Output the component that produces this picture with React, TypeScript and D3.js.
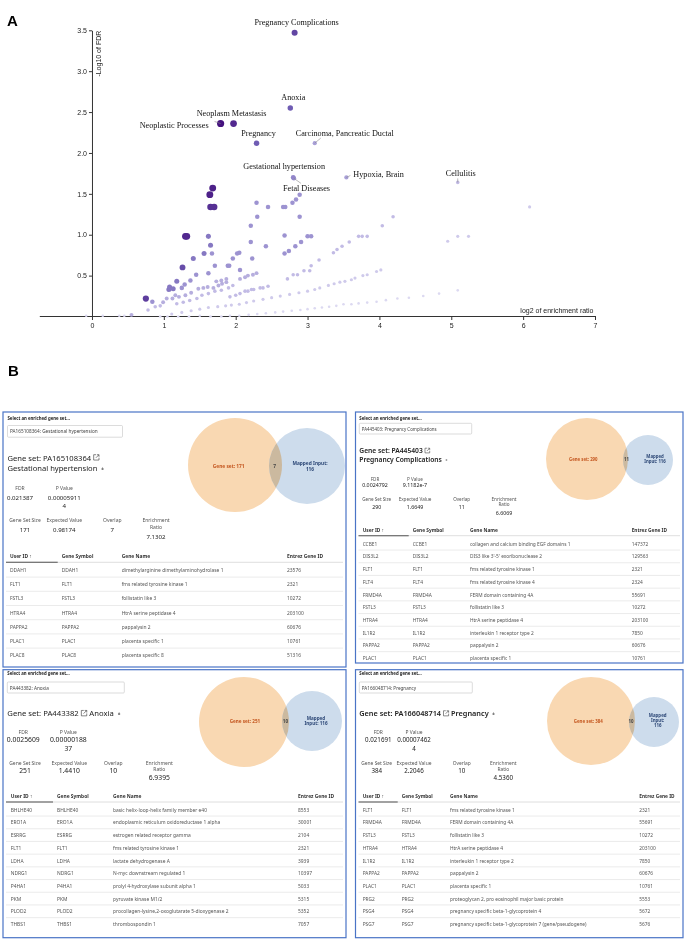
import { useEffect, useLayoutEffect, useRef, useState } from "react";
import * as d3 from "d3";

// ---------------- Panel A: volcano plot ----------------
// [log2 of enrichment ratio, -log10 of FDR], grouped by overlap size
const overlap1Points = [
  [-0.08, 0.01], [0.15, 0.01], [0.38, 0.01], [0.45, 0.01], [0.95, 0.0], [1.05, 0.0], [1.2, 0.0],
  [1.35, 0.0], [1.5, 0.01], [1.65, 0.0], [1.8, 0.0], [1.92, 0.01], [2.05, 0.01], [2.18, 0.02],
  [2.3, 0.03], [2.42, 0.04], [2.55, 0.05], [2.66, 0.06], [2.78, 0.07], [2.9, 0.08], [3.0, 0.09],
  [3.1, 0.1], [3.2, 0.11], [3.3, 0.12], [3.4, 0.13], [3.5, 0.15], [3.61, 0.15], [3.71, 0.16],
  [3.83, 0.17], [3.96, 0.18], [4.09, 0.2], [4.25, 0.22], [4.41, 0.23], [4.61, 0.25], [4.83, 0.28],
  [5.09, 0.32],
];
const overlap2Points = [
  [1.11, 0.03], [1.25, 0.05], [1.38, 0.07], [1.5, 0.09], [1.62, 0.11], [1.75, 0.12], [1.86, 0.13],
  [1.94, 0.14], [2.05, 0.15], [2.15, 0.17], [2.25, 0.19], [2.38, 0.21], [2.5, 0.23], [2.62, 0.25],
  [2.75, 0.27], [2.88, 0.29], [3.0, 0.31], [3.1, 0.33], [3.17, 0.35], [3.29, 0.38], [3.37, 0.4],
  [3.45, 0.42], [3.52, 0.43], [3.61, 0.45], [3.66, 0.47], [3.77, 0.5], [3.83, 0.51], [3.96, 0.55],
  [4.02, 0.57], [4.95, 0.92], [5.09, 0.98], [5.24, 0.98], [6.09, 1.34],
];
const overlap3Points = [
  [0.78, 0.08], [0.88, 0.12], [0.95, 0.13], [1.18, 0.155], [1.27, 0.175], [1.36, 0.195], [1.46, 0.22],
  [1.53, 0.26], [1.62, 0.28], [1.71, 0.31], [1.8, 0.32], [1.9, 0.35], [1.96, 0.38], [1.92, 0.24],
  [2.0, 0.26], [2.06, 0.28], [2.13, 0.31], [2.17, 0.31], [2.22, 0.33], [2.25, 0.33], [2.34, 0.35],
  [2.38, 0.35], [2.45, 0.37], [2.72, 0.46], [2.8, 0.51], [2.86, 0.51], [2.95, 0.56], [3.03, 0.56],
  [3.05, 0.62], [3.16, 0.69], [3.36, 0.78], [3.41, 0.82], [3.48, 0.86], [3.58, 0.91], [3.71, 0.98],
  [3.76, 0.98], [3.83, 0.98], [4.04, 1.11], [4.19, 1.22],
];
const overlap4Points = [
  [0.55, 0.02], [0.99, 0.175], [1.04, 0.22], [1.12, 0.22], [1.16, 0.26], [1.21, 0.24], [1.3, 0.26],
  [1.38, 0.29], [1.48, 0.34], [1.55, 0.35], [1.61, 0.36], [1.69, 0.35], [1.76, 0.38], [1.81, 0.4],
  [1.87, 0.42], [1.73, 0.43], [1.8, 0.44], [1.87, 0.46], [2.06, 0.46], [2.13, 0.48], [2.17, 0.5],
  [2.24, 0.51], [2.29, 0.53],
];
const overlap6Points = [
  [0.84, 0.18], [1.25, 0.35], [1.29, 0.39], [1.37, 0.44], [1.45, 0.51], [1.62, 0.53], [1.67, 0.77],
  [1.71, 0.62], [1.89, 0.62], [1.91, 0.62], [1.96, 0.71], [2.02, 0.77], [2.05, 0.78], [2.06, 0.57],
  [2.23, 0.71], [2.21, 0.91], [2.21, 1.11], [2.3, 1.22], [2.29, 1.39], [2.42, 0.86], [2.45, 1.34],
  [2.66, 1.34], [2.69, 1.34], [2.68, 0.99], [2.68, 0.77], [2.74, 0.8], [2.79, 1.39], [2.83, 0.86],
  [2.84, 1.43], [2.89, 1.49], [2.89, 1.22], [2.91, 0.91], [3.0, 0.98], [3.05, 0.98],
];
const overlap8Points = [
  [1.07, 0.33], [1.08, 0.36], [1.13, 0.34], [1.18, 0.43], [1.41, 0.71], [1.56, 0.77], [1.62, 0.98],
  [1.65, 0.87],
];
// strongest unlabeled terms: [log2 ER, -log10 FDR, overlap]
const strongPoints = [
  [0.75, 0.22, 14], [1.26, 0.6, 12], [1.3, 0.98, 17], [1.32, 0.98, 17], [1.65, 1.34, 16],
  [1.7, 1.34, 16], [1.64, 1.49, 18], [1.68, 1.57, 18],
];

const labelNames = [
  "Pregnancy Complications", "Anoxia", "Neoplasm Metastasis", "Neoplastic Processes", "Pregnancy",
  "Carcinoma, Pancreatic Ductal", "Gestational hypertension", "Fetal Diseases", "Hypoxia, Brain", "Cellulitis",
];
const labelLog2ER = [2.82, 2.76, 1.97, 1.79, 2.29, 3.1, 2.8, 2.81, 3.54, 5.09];
const labelLogFDR = [3.47, 2.55, 2.36, 2.36, 2.12, 2.12, 1.7, 1.69, 1.7, 1.64];
const labelOverlap = [13, 10, 17, 20, 10, 5, 7, 6, 5, 3];

const xTickValues = [0, 1, 2, 3, 4, 5, 6, 7];
const yTickValues = [0.5, 1, 1.5, 2, 2.5, 3, 3.5];

// ---------------- Panel B: gene set cards ----------------
const setIds = ["PA165108364", "PA445403", "PA443382", "PA166048714"];
const setNames = ["Gestational hypertension", "Pregnancy Complications", "Anoxia", "Pregnancy"];
const setFDR = ["0.021387", "0.0024792", "0.0025609", "0.021691"];
const setPValue = ["0.000059114", "9.1182e-7", "0.0000018837", "0.000074624"];
const setSize = [171, 290, 251, 384];
const setExpected = ["0.98174", "1.6649", "1.4410", "2.2046"];
const setOverlap = [7, 11, 10, 10];
const setRatio = ["7.1302", "6.6069", "6.9395", "4.5360"];
const mappedInput = 116;

const genesGestational = [
  ["DDAH1", "dimethylarginine dimethylaminohydrolase 1", "23576"],
  ["FLT1", "fms related tyrosine kinase 1", "2321"],
  ["FSTL3", "follistatin like 3", "10272"],
  ["HTRA4", "HtrA serine peptidase 4", "203100"],
  ["PAPPA2", "pappalysin 2", "60676"],
  ["PLAC1", "placenta specific 1", "10761"],
  ["PLAC8", "placenta specific 8", "51316"],
];
const genesPregComp = [
  ["CCBE1", "collagen and calcium binding EGF domains 1", "147372"],
  ["DIS3L2", "DIS3 like 3'-5' exoribonuclease 2", "129563"],
  ["FLT1", "fms related tyrosine kinase 1", "2321"],
  ["FLT4", "fms related tyrosine kinase 4", "2324"],
  ["FRMD4A", "FERM domain containing 4A", "55691"],
  ["FSTL3", "follistatin like 3", "10272"],
  ["HTRA4", "HtrA serine peptidase 4", "203100"],
  ["IL1R2", "interleukin 1 receptor type 2", "7850"],
  ["PAPPA2", "pappalysin 2", "60676"],
  ["PLAC1", "placenta specific 1", "10761"],
];
const genesAnoxia = [
  ["BHLHE40", "basic helix-loop-helix family member e40", "8553"],
  ["ERO1A", "endoplasmic reticulum oxidoreductase 1 alpha", "30001"],
  ["ESRRG", "estrogen related receptor gamma", "2104"],
  ["FLT1", "fms related tyrosine kinase 1", "2321"],
  ["LDHA", "lactate dehydrogenase A", "3939"],
  ["NDRG1", "N-myc downstream regulated 1", "10397"],
  ["P4HA1", "prolyl 4-hydroxylase subunit alpha 1", "5033"],
  ["PKM", "pyruvate kinase M1/2", "5315"],
  ["PLOD2", "procollagen-lysine,2-oxoglutarate 5-dioxygenase 2", "5352"],
  ["THBS1", "thrombospondin 1", "7057"],
];
const genesPregnancy = [
  ["FLT1", "fms related tyrosine kinase 1", "2321"],
  ["FRMD4A", "FERM domain containing 4A", "55691"],
  ["FSTL3", "follistatin like 3", "10272"],
  ["HTRA4", "HtrA serine peptidase 4", "203100"],
  ["IL1R2", "interleukin 1 receptor type 2", "7850"],
  ["PAPPA2", "pappalysin 2", "60676"],
  ["PLAC1", "placenta specific 1", "10761"],
  ["PRG2", "proteoglycan 2, pro eosinophil major basic protein", "5553"],
  ["PSG4", "pregnancy specific beta-1-glycoprotein 4", "5672"],
  ["PSG7", "pregnancy specific beta-1-glycoprotein 7 (gene/pseudogene)", "5676"],
];
const geneTables = [genesGestational, genesPregComp, genesAnoxia, genesPregnancy];

////////////////////////// styles / layout //////////////////////////
const serif = "'Liberation Serif', 'Times New Roman', serif";
const sans = "'Liberation Sans', Arial, sans-serif";
const ui = "'Noto Sans', 'Open Sans', sans-serif";

const x = d3.scaleLinear().domain([-0.733, 7]).range([39.3, 595]);
const y = d3.scaleLinear().domain([0, 3.5]).range([316.5, 30.3]);
const dotColor = d3
  .scaleLinear<string>()
  .domain([1, 3, 6, 10, 20])
  .range(["#dcd9f1", "#c2bbe5", "#9d93d1", "#6f5cb3", "#45127f"])
  .interpolate(d3.interpolateRgb);
const radius = d3.scaleSqrt().domain([1, 20]).range([1.3, 3.6]);

// label offsets from the point, in px
const labelLayout = [
  { dx: 2, dy: -8, anchor: "middle" },
  { dx: 3, dy: -8, anchor: "middle" },
  { dx: -2, dy: -8, anchor: "middle" },
  { dx: -12, dy: 4.5, anchor: "end", lead: [-6, -2] },
  { dx: 2, dy: -7, anchor: "middle" },
  { dx: -19, dy: -7, anchor: "start", lead: [6, -5] },
  { dx: -9, dy: -8, anchor: "middle" },
  { dx: 12.6, dy: 12.5, anchor: "middle", lead: [7, 5] },
  { dx: 7, dy: -0.8, anchor: "start", lead: [4, -2] },
  { dx: 3, dy: -6.7, anchor: "middle", lead: [0, -4] },
];

const Volcano = () => {
  const gx = useRef<SVGGElement>(null);
  const gy = useRef<SVGGElement>(null);

  useEffect(() => {
    const ax = d3.select(gx.current);
    ax.selectAll("*").remove();
    ax.call(
      d3.axisBottom(x).tickValues(xTickValues).tickFormat(d3.format("d")).tickSize(4).tickSizeOuter(0).tickPadding(3) as any
    );
    const ay = d3.select(gy.current);
    ay.selectAll("*").remove();
    ay.call(
      d3.axisLeft(y).tickValues(yTickValues).tickFormat(d3.format(".1f")).tickSize(3).tickSizeOuter(0).tickPadding(2) as any
    );
    [ax, ay].forEach((a: any) => {
      a.attr("font-family", sans).attr("font-size", 7);
      a.selectAll("path,line").attr("stroke", "#333");
      a.selectAll("text").attr("fill", "#222");
    });
  }, []);

  const groups: [number, number[][]][] = [
    [1, overlap1Points], [2, overlap2Points], [3, overlap3Points],
    [4, overlap4Points], [6, overlap6Points], [8, overlap8Points],
  ];
  const dots = groups.flatMap(([k, pts]) => pts.map((p) => ({ er: p[0], fdr: p[1], k })));
  strongPoints.forEach((p) => dots.push({ er: p[0], fdr: p[1], k: p[2] }));
  const labeled = labelNames.map((name, i) => ({ name, er: labelLog2ER[i], fdr: labelLogFDR[i], k: labelOverlap[i], L: labelLayout[i] }));
  labeled.forEach((d) => dots.push({ er: d.er, fdr: d.fdr, k: d.k }));
  dots.sort((a, b) => a.k - b.k);

  return (
    <g>
      <text x={7} y={26} fontFamily={sans} fontWeight={700} fontSize={15}>A</text>
      <g ref={gx} transform="translate(0,316)" />
      <g ref={gy} transform={`translate(${x(0)},0)`} />
      <text transform={`translate(101,30.7) rotate(-90)`} textAnchor="end" fontFamily={sans} fontSize={7} fill="#222">-Log10 of FDR</text>
      <text x={593.5} y={313} textAnchor="end" fontFamily={sans} fontSize={7} fill="#222">log2 of enrichment ratio</text>
      {dots.map((d, i) => (
        <circle key={i} cx={x(d.er)} cy={y(d.fdr)} r={radius(d.k)} fill={dotColor(d.k)} />
      ))}
      {labeled.map((d, i) => {
        const px = x(d.er), py = y(d.fdr);
        return (
          <g key={i}>
            {d.L.lead && (
              <line x1={px} y1={py} x2={px + d.L.lead[0]} y2={py + d.L.lead[1]} stroke="#888" strokeWidth={0.6} />
            )}
            <text x={px + d.L.dx} y={py + d.L.dy} textAnchor={d.L.anchor} fontFamily={serif} fontSize={8.2} fill="#111">
              {d.name}
            </text>
          </g>
        );
      })}
    </g>
  );
};

const panelLayouts = [
  {
    box: [3, 412, 343, 255], selY: 418.3, inp: [7.5, 425.5, 115, 11.7], inpFs: 4.7,
    tx: 7.5, ty: [460.5, 471], titleFs: 7.6, titleWeight: 400, twoLine: true,
    xs: [20, 64.3], xs2: [25, 64.3, 112.3, 156], r1: [488.3, 497.7], wrapDy: 7.3, r2: [520.3, 529.7], ratioDy: 6.4, r2v: 536.7,
    labFs: 5, valFs: 6.1,
    header: 555.7, hLine: 562.3, row0: 570, pitch: 14.2, cols: [10, 61.7, 121.7, 287], tFs: 4.9,
    o: [235, 465, 47], b: [307, 466, 38], vFs: 4.8,
    oLab: [228.7, 465.7], nLab: [274.5, 465.7], mLab: [310, 463.3], mWrap: 0,
  },
  {
    box: [355.5, 412, 327.5, 251], selY: 417.7, inp: [359.3, 423.3, 112.4, 10.7], inpFs: 4.4,
    tx: 359.3, ty: [453.3, 462], titleFs: 6.7, titleWeight: 600, twoLine: true,
    xs: [375, 415], xs2: [376.7, 415, 461.7, 504], r1: [479, 485.3], wrapDy: 6.5, r2: [499.3, 507], ratioDy: 4.9, r2v: 512.7,
    labFs: 4.6, valFs: 5.3,
    header: 530, hLine: 535.7, row0: 543.7, pitch: 12.7, cols: [362.7, 412.7, 470, 631.7], tFs: 4.8,
    o: [587, 459, 41], b: [648, 460, 25], vFs: 4.3,
    oLab: [583.3, 459], nLab: [626.5, 459], mLab: [655, 455.7], mWrap: 1,
  },
  {
    box: [3, 669.7, 343, 268], selY: 673.3, inp: [7.3, 682, 117, 11], inpFs: 4.7,
    tx: 7.3, ty: [716.3], titleFs: 7.7, titleWeight: 400, twoLine: false,
    xs: [23.3, 68.3], xs2: [25, 69.3, 113.3, 159.3], r1: [732.3, 739.7], wrapDy: 8.3, r2: [763, 770.7], ratioDy: 5.7, r2v: 777.3,
    labFs: 5, valFs: 6.8,
    header: 795.7, hLine: 802, row0: 809.7, pitch: 12.7, cols: [10.7, 57, 113, 298], tFs: 4.9,
    o: [244, 722, 45], b: [312, 721, 30], vFs: 4.6,
    oLab: [245, 720.7], nLab: [285.5, 720.7], mLab: [316, 718], mWrap: 1,
  },
  {
    box: [355.5, 669.7, 327.5, 268], selY: 673.3, inp: [359.3, 682, 113, 11], inpFs: 4.6,
    tx: 359.3, ty: [716.3], titleFs: 7.3, titleWeight: 600, twoLine: false,
    xs: [378.3, 414], xs2: [376.7, 414, 461.7, 503.3], r1: [732.3, 739.7], wrapDy: 8.3, r2: [763, 770.7], ratioDy: 5.7, r2v: 777.3,
    labFs: 4.9, valFs: 6.2,
    header: 795.7, hLine: 802, row0: 809.7, pitch: 12.7, cols: [362.7, 401.7, 450, 639.3], tFs: 4.8,
    o: [591, 721, 44], b: [654, 722, 25], vFs: 4.4,
    oLab: [588.3, 720.7], nLab: [631, 720.7], mLab: [657.7, 715.3], mWrap: 2,
  },
];

const ExtIcon = ({ x0, y0, s }: { x0: number; y0: number; s: number }) => (
  <g transform={`translate(${x0},${y0 - s})`} fill="none" stroke="#333" strokeWidth={s * 0.1}>
    <path d={`M${s * 0.45},${s * 0.05}H${s * 0.05}V${s * 0.95}H${s * 0.95}V${s * 0.55}`} />
    <path d={`M${s * 0.42},${s * 0.58}L${s * 0.92},${s * 0.08}M${s * 0.6},${s * 0.05}H${s * 0.95}V${s * 0.4}`} />
  </g>
);

const GenePanel = ({ idx }: { idx: number }) => {
  const L: any = panelLayouts[idx];
  const genes = geneTables[idx];
  const [bx, by, bw, bh] = L.box;
  const t1 = useRef<SVGTextElement>(null);
  const t2 = useRef<SVGTextElement>(null);
  const [w, setW] = useState([0, 0]);

  useLayoutEffect(() => {
    setW([t1.current ? t1.current.getComputedTextLength() : 0, t2.current ? t2.current.getComputedTextLength() : 0]);
  }, []);

  const fs = L.titleFs;
  const iconS = fs * 0.78;
  const iconX = L.tx + w[0] + fs * 0.3;
  const nameX = L.twoLine ? L.tx : iconX + iconS + fs * 0.3;
  const nameY = L.twoLine ? L.ty[1] : L.ty[0];
  const pmX = nameX + w[1] + fs * 0.5;

  const pv = setPValue[idx];
  const pvLines = pv.length > 10 ? [pv.slice(0, 10), pv.slice(10)] : [pv];
  const mLines = [
    ["Mapped Input:", `${mappedInput}`],
    ["Mapped", `Input: ${mappedInput}`],
    ["Mapped", "Input:", `${mappedInput}`],
  ][L.mWrap];

  const statsTop = [
    { lab: ["FDR"], val: [setFDR[idx]] },
    { lab: ["P Value"], val: pvLines },
  ];
  const statsBottom = [
    { lab: ["Gene Set Size"], val: [String(setSize[idx])] },
    { lab: ["Expected Value"], val: [setExpected[idx]] },
    { lab: ["Overlap"], val: [String(setOverlap[idx])] },
    { lab: ["Enrichment", "Ratio"], val: [setRatio[idx]] },
  ];
  const clipId = `vennclip${idx}`;
  const headers = ["User ID \u2191", "Gene Symbol", "Gene Name", "Entrez Gene ID"];

  return (
    <g fontFamily={ui}>
      <rect x={bx} y={by} width={bw} height={bh} fill="#fff" stroke="#4a74c6" strokeWidth={1.2} />
      <text x={L.inp[0]} y={L.selY} dominantBaseline="central" fontSize={4.3} fontWeight={700} fill="#222">
        Select an enriched gene set...
      </text>
      <rect x={L.inp[0]} y={L.inp[1]} width={L.inp[2]} height={L.inp[3]} rx={1} fill="#fff" stroke="#c4c4c4" strokeWidth={0.6} />
      <text x={L.inp[0] + 2.5} y={L.inp[1] + L.inp[3] / 2} dominantBaseline="central" fontSize={L.inpFs} fill="#444">
        {`${setIds[idx]}: ${setNames[idx]}`}
      </text>

      {/* title */}
      <text ref={t1} x={L.tx} y={L.ty[0]} fontSize={fs} fontWeight={L.titleWeight} fill="#222">
        {`Gene set: ${setIds[idx]}`}
      </text>
      <ExtIcon x0={iconX} y0={L.ty[0] - fs * 0.02} s={iconS} />
      <text ref={t2} x={nameX} y={nameY} fontSize={fs} fontWeight={L.titleWeight} fill="#222">
        {setNames[idx]}
      </text>
      <text x={pmX} y={nameY - fs * 0.12} fontSize={fs * 0.6} fill="#444">±</text>

      {/* statistics */}
      {statsTop.map((s, i) => (
        <g key={"t" + i} textAnchor="middle">
          <text x={L.xs[i]} y={L.r1[0]} dominantBaseline="central" fontSize={L.labFs} fill="#555">{s.lab[0]}</text>
          {s.val.map((v, j) => (
            <text key={j} x={L.xs[i]} y={L.r1[1] + j * L.wrapDy} dominantBaseline="central" fontSize={L.valFs} fill="#222">{v}</text>
          ))}
        </g>
      ))}
      {statsBottom.map((s, i) => (
        <g key={"b" + i} textAnchor="middle">
          {s.lab.map((l, j) => (
            <text key={j} x={L.xs2[i]} y={L.r2[0] + j * L.ratioDy} dominantBaseline="central" fontSize={L.labFs} fill="#555">{l}</text>
          ))}
          <text x={L.xs2[i]} y={s.lab.length > 1 ? L.r2v : L.r2[1]} dominantBaseline="central" fontSize={L.valFs} fill="#222">
            {s.val[0]}
          </text>
        </g>
      ))}

      {/* venn */}
      <clipPath id={clipId}>
        <circle cx={L.b[0]} cy={L.b[1]} r={L.b[2]} />
      </clipPath>
      <circle cx={L.o[0]} cy={L.o[1]} r={L.o[2]} fill="#f9d8b2" />
      <circle cx={L.b[0]} cy={L.b[1]} r={L.b[2]} fill="#cddcec" />
      <circle cx={L.o[0]} cy={L.o[1]} r={L.o[2]} fill="#cbb99f" clipPath={`url(#${clipId})`} />
      <text x={L.oLab[0]} y={L.oLab[1]} textAnchor="middle" dominantBaseline="central" fontSize={L.vFs} fontWeight={700} fill="#c4561f">
        {`Gene set: ${setSize[idx]}`}
      </text>
      <text x={L.nLab[0]} y={L.nLab[1]} textAnchor="middle" dominantBaseline="central" fontSize={L.vFs} fontWeight={700} fill="#444">
        {setOverlap[idx]}
      </text>
      {mLines.map((m, j) => (
        <text key={j} x={L.mLab[0]} y={L.mLab[1] + j * L.vFs * 1.15} textAnchor="middle" dominantBaseline="central" fontSize={L.vFs} fontWeight={700} fill="#2d4877">
          {m}
        </text>
      ))}

      {/* table */}
      {headers.map((h, i) => (
        <text key={h} x={L.cols[i]} y={L.header} dominantBaseline="central" fontSize={L.tFs} fontWeight={700} fill="#333">{h}</text>
      ))}
      <line x1={bx + 3} x2={bx + bw - 3} y1={L.hLine} y2={L.hLine} stroke="#d6d6d6" strokeWidth={0.8} />
      <line x1={bx + 3} x2={L.cols[1] - 4} y1={L.hLine} y2={L.hLine} stroke="#555" strokeWidth={1.1} />
      {genes.map((g, r) => {
        const cy = L.row0 + r * L.pitch;
        return (
          <g key={r} fontSize={L.tFs} fill="#555">
            {r < genes.length - 1 && (
              <line x1={bx + 3} x2={bx + bw - 3} y1={cy + L.pitch / 2} y2={cy + L.pitch / 2} stroke="#e2e2e2" strokeWidth={0.7} />
            )}
            <text x={L.cols[0]} y={cy} dominantBaseline="central">{g[0]}</text>
            <text x={L.cols[1]} y={cy} dominantBaseline="central">{g[0]}</text>
            <text x={L.cols[2]} y={cy} dominantBaseline="central">{g[1]}</text>
            <text x={L.cols[3]} y={cy} dominantBaseline="central">{g[2]}</text>
          </g>
        );
      })}
    </g>
  );
};

const App = () => {
  return (
    <svg
      width={685}
      height={939}
      viewBox="0 0 685 939"
      style={{ position: "absolute", left: 0, top: 0, background: "#fff", willChange: "transform" }}
    >
      <rect width={685} height={939} fill="#fff" />
      <Volcano />
      <text x={8} y={376} fontFamily={sans} fontWeight={700} fontSize={15}>B</text>
      {[0, 1, 2, 3].map((i) => (
        <GenePanel key={i} idx={i} />
      ))}
    </svg>
  );
};

export default App;
